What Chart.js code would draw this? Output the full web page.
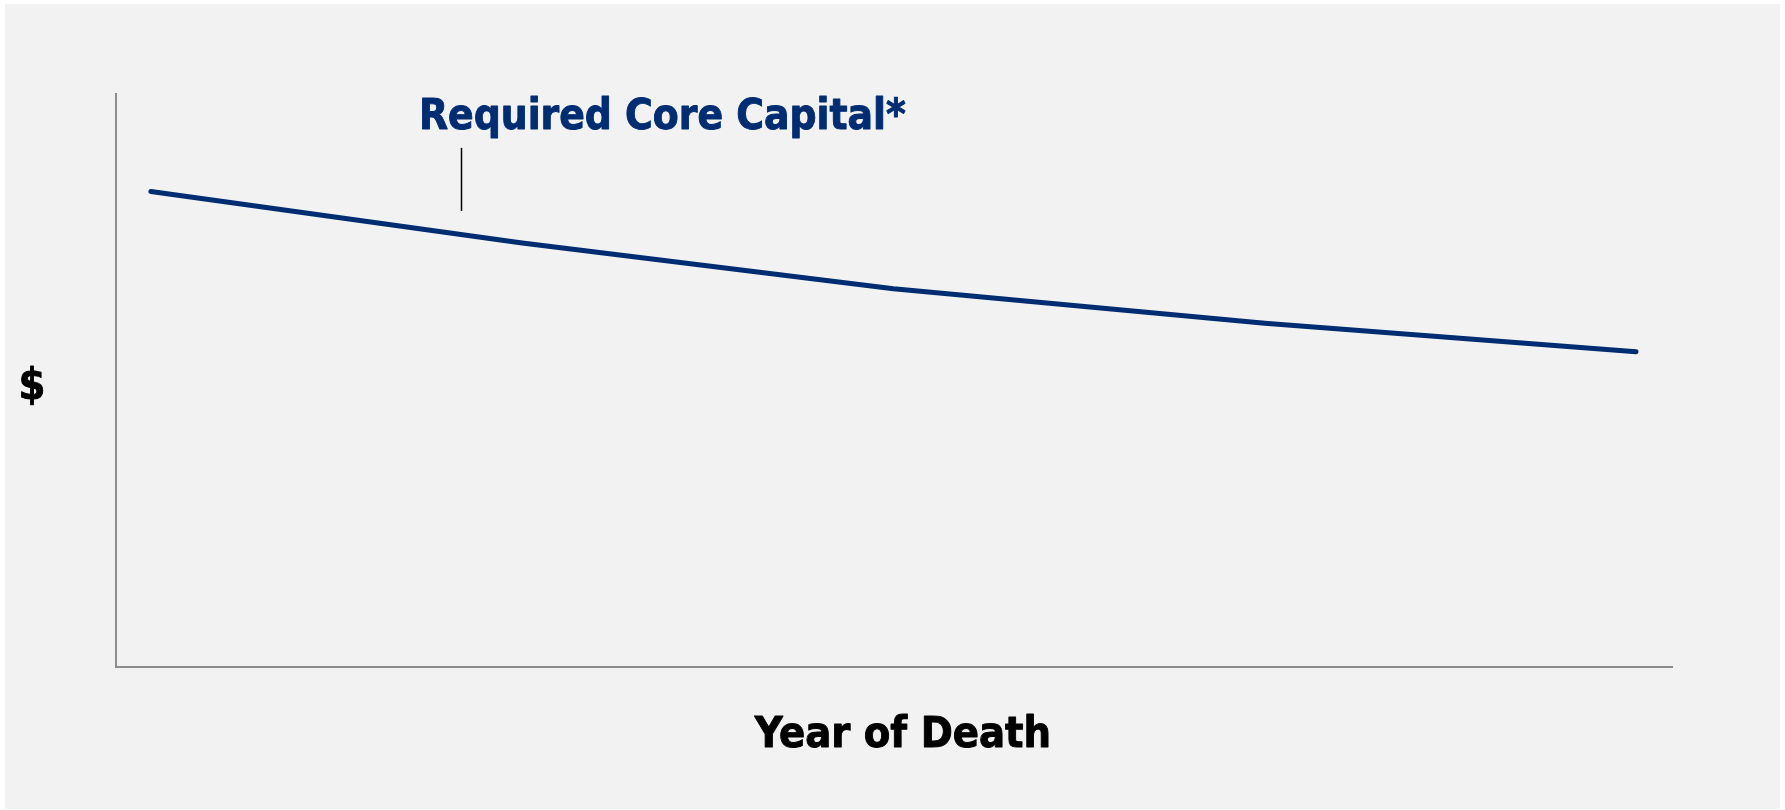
<!DOCTYPE html>
<html>
<head>
<meta charset="utf-8">
<script src="https://cdn.jsdelivr.net/npm/chart.js@4"></script>
<style>
  html, body { margin:0; padding:0; background:#ffffff; }
  #panel { position:absolute; left:5px; top:4px; width:1775px; height:805px; background:#f2f2f2; }
  #wrap { position:absolute; left:0; top:0; width:1785px; height:810px; }
</style>
</head>
<body>
<div id="panel"></div>
<div id="wrap"><canvas id="c" width="1785" height="810"></canvas></div>
<script>
// ---- data ----
const years = [0, 1, 2, 3, 4];
const coreCapital = [83, 74, 66, 60, 55];
const seriesLabel = 'Required Core Capital*';
const xTitle = 'Year of Death';
const yTitle = '$';

const navy = '#002d72';
const FONT = '"DejaVu Sans Condensed", "DejaVu Sans", sans-serif';

function boldText(ctx, text, x, y, color) {
  ctx.fillStyle = color;
  ctx.strokeStyle = color;
  ctx.lineWidth = 0.9;
  ctx.lineJoin = 'round';
  ctx.fillText(text, x, y);
  ctx.strokeText(text, x, y);
}

const annotations = {
  plugin: {
    id: 'annot',
    afterDraw(chart) {
      const ctx = chart.ctx;
      const xs = chart.scales.x, ys = chart.scales.y;
      ctx.save();
      // series label
      ctx.font = 'bold 42px ' + FONT;
      ctx.textAlign = 'left';
      ctx.textBaseline = 'alphabetic';
      boldText(ctx, seriesLabel, xs.getPixelForValue(0.722), ys.getPixelForValue(93.9), navy);
      // leader tick
      ctx.strokeStyle = '#000000';
      ctx.lineWidth = 1.5;
      const tx = Math.round(xs.getPixelForValue(0.835)) + 0.5;
      ctx.beginPath();
      ctx.moveTo(tx, ys.getPixelForValue(90.6));
      ctx.lineTo(tx, ys.getPixelForValue(79.6));
      ctx.stroke();
      // axis titles
      ctx.font = 'bold 43px ' + FONT;
      ctx.textAlign = 'center';
      boldText(ctx, xTitle, (chart.chartArea.left + chart.chartArea.right) / 2 + 9, 747, '#000000');
      ctx.textBaseline = 'middle';
      boldText(ctx, yTitle, 32, (chart.chartArea.top + chart.chartArea.bottom) / 2 + 7, '#000000');
      ctx.restore();
    }
  }
};

new Chart(document.getElementById('c'), {
  type: 'line',
  data: {
    datasets: [{
      label: seriesLabel,
      data: years.map((x, i) => ({ x: x, y: coreCapital[i] })),
      borderColor: navy,
      borderWidth: 5,
      borderCapStyle: 'round',
      borderJoinStyle: 'round',
      pointRadius: 0,
      tension: 0,
      fill: false
    }]
  },
  options: {
    responsive: false,
    animation: false,
    layout: { padding: { left: 116, top: 94, right: 113, bottom: 143 } },
    plugins: { legend: { display: false }, tooltip: { enabled: false } },
    scales: {
      x: {
        type: 'linear',
        min: -0.094,
        max: 4.097,
        grid: { display: false, drawTicks: false },
        border: { display: true, color: '#8c8c8c', width: 2 },
        ticks: { display: false }
      },
      y: {
        type: 'linear',
        min: 0,
        max: 100,
        grid: { display: false, drawTicks: false },
        border: { display: true, color: '#8c8c8c', width: 2 },
        ticks: { display: false }
      }
    }
  },
  plugins: [annotations.plugin]
});
</script>
</body>
</html>
